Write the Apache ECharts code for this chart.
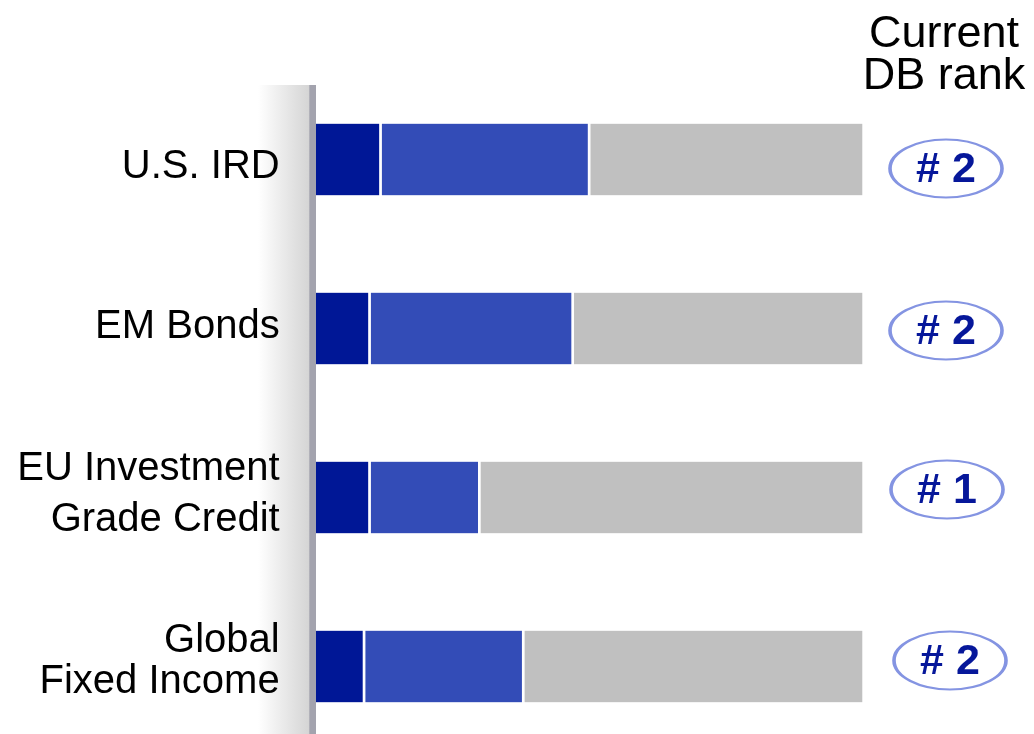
<!DOCTYPE html>
<html>
<head>
<meta charset="utf-8">
<script src="https://cdn.jsdelivr.net/npm/echarts@6/dist/echarts.min.js"></script>
<style>
html,body{margin:0;padding:0;background:#fff;}
#chart{width:1034px;height:734px;}
</style>
</head>
<body>
<div id="chart"></div>
<script>
const categories = ['U.S. IRD', 'EM Bonds', 'EU Investment\nGrade Credit', 'Global\nFixed Income'];
const segDark = [12, 10, 10, 9];
const segBlue = [38, 37, 20, 29];
const segGray = [50, 53, 70, 62];
const ranks = [2, 2, 1, 2];
const rankHeader = 'Current\nDB rank';
const rankX = 115;

const FONT = '"Liberation Sans", Arial, sans-serif';

const labelBase = { fontFamily: FONT, fontSize: 40, color: '#000' };
const labelRich = {
  s0: Object.assign({}, labelBase, { lineHeight: 46, padding: [15, 0, 0, 0] }),
  s1: Object.assign({}, labelBase, { lineHeight: 46, padding: [0, 0, 4, 0] }),
  s2: Object.assign({}, labelBase, { lineHeight: 51, padding: [0, 0, 6, 0] }),
  s3: Object.assign({}, labelBase, { lineHeight: 41, padding: [0, 0, 11, 0] })
};
const badgeTweaks = [[0, 9], [0, 2], [1, -8], [4, -6]];

const chart = echarts.init(document.getElementById('chart'), null, { renderer: 'canvas' });

const barCommon = {
  type: 'bar',
  stack: 'total',
  barWidth: 74,
  emphasis: { disabled: true },
  animation: false
};
function barStyle(color) {
  return { color: color, borderColor: '#ffffff', borderWidth: 1.35 };
}

const option = {
  animation: false,
  title: {
    text: rankHeader,
    left: 939,
    top: 9,
    textAlign: 'center',
    textStyle: { fontFamily: FONT, fontSize: 45, fontWeight: 'normal', color: '#000', lineHeight: 42 }
  },
  grid: { left: 314.65, right: 170.35, top: 75, height: 676, containLabel: false, outerBoundsMode: 'none' },
  xAxis: {
    type: 'value', min: 0, max: 100, show: false
  },
  yAxis: {
    type: 'category',
    inverse: true,
    data: categories,
    axisLine: { show: false },
    axisTick: { show: false },
    splitLine: { show: false },
    axisLabel: {
      margin: 35,
      fontFamily: FONT,
      fontSize: 40,
      color: '#000',
      formatter: (value, index) => value.split('\n').map(l => '{s' + index + '|' + l + '}').join('\n'),
      rich: labelRich
    }
  },
  graphic: [
    {
      type: 'rect', z: -10,
      shape: { x: 258, y: 85, width: 52, height: 660 },
      style: {
        fill: new echarts.graphic.LinearGradient(0, 0, 1, 0, [
          { offset: 0, color: '#ffffff' },
          { offset: 1, color: '#d4d4d4' }
        ])
      }
    },
    {
      type: 'rect', z: 100,
      shape: { x: 309.3, y: 85, width: 6.7, height: 660 },
      style: { fill: '#a3a3ae' }
    }
  ],
  series: [
    Object.assign({}, barCommon, { name: 'Dark', data: segDark, itemStyle: barStyle('#001796') }),
    Object.assign({}, barCommon, { name: 'Blue', data: segBlue, itemStyle: barStyle('#334cb7') }),
    Object.assign({}, barCommon, { name: 'Gray', data: segGray, itemStyle: barStyle('#c0c0c0') }),
    {
      type: 'scatter',
      clip: false,
      silent: true,
      animation: false,
      symbol: 'circle',
      symbolSize: [112, 58],
      data: ranks.map((r, i) => ({
        value: [rankX, i, r],
        symbolOffset: badgeTweaks[i]
      })),
      itemStyle: { color: '#ffffff', borderColor: '#8494e2', borderWidth: 2.6, opacity: 1 },
      label: {
        show: true,
        position: 'inside',
        offset: [0, 2],
        formatter: p => '# ' + p.value[2],
        fontFamily: FONT,
        fontSize: 43,
        fontWeight: 'bold',
        color: '#06179a'
      },
      z: 5
    }
  ]
};

chart.setOption(option);
</script>
</body>
</html>
